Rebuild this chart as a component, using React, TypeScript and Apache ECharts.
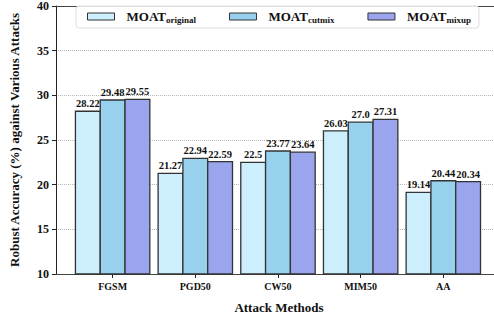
import React, { useEffect, useRef } from "react";
import * as echarts from "echarts";

const categories = ["FGSM", "PGD50", "CW50", "MIM50", "AA"];
const seriesNames = ["original", "cutmix", "mixup"];
const originalValues = [28.22, 21.27, 22.5, 26.03, 19.14];
const cutmixValues = [29.48, 22.94, 23.77, 27.0, 20.44];
const mixupValues = [29.55, 22.59, 23.64, 27.31, 20.34];
const yTicks = [10, 15, 20, 25, 30, 35, 40];

const FONT = '"Liberation Serif", "Times New Roman", serif';
const COLORS = ["#cdeefd", "#97d1ee", "#9aa5ee"];
const OFFSETS = [-0.3, 0, 0.3];
const BAR_W = 0.3;
const Y_MIN = yTicks[0];
const Y_MAX = yTicks[yTicks.length - 1];

const fmt = (v: number) => (Number.isInteger(v) ? v.toFixed(1) : String(v));

export default function App() {
  const ref = useRef<HTMLDivElement>(null);
  useEffect(() => {
    if (!ref.current) return;
    const chart = echarts.init(ref.current, null, { renderer: "svg" });
    const all = [originalValues, cutmixValues, mixupValues];
    const series = all.map((vals, s) => ({
      type: "custom",
      name: seriesNames[s],
      itemStyle: { color: COLORS[s], borderColor: "#333", borderWidth: 1 },
      data: vals.map((v, i) => [i, v]),
      encode: { x: 0, y: 1 },
      clip: false,
      renderItem: (params: any, api: any) => {
        const i = api.value(0);
        const v = api.value(1);
        const tl = api.coord([i + OFFSETS[s] - BAR_W / 2, v]);
        const br = api.coord([i + OFFSETS[s] + BAR_W / 2, Y_MIN]);
        return {
          type: "group",
          children: [
            {
              type: "rect",
              shape: { x: tl[0], y: tl[1], width: br[0] - tl[0], height: br[1] - tl[1] },
              style: { fill: COLORS[s], stroke: "#333", lineWidth: 1.3 },
            },
            {
              type: "text",
              x: (tl[0] + br[0]) / 2,
              y: tl[1] - 2,
              style: {
                text: fmt(v),
                fontSize: 10.5,
                fontWeight: "bold",
                fontFamily: FONT,
                fill: "#111",
                align: "center",
                verticalAlign: "bottom",
              },
            },
          ],
        };
      },
    }));

    chart.setOption({
      animation: false,
      grid: { left: 53, right: 0, top: 4, bottom: 41 },
      legend: {
        left: 76,
        top: 6,
        padding: [4, 8, 4, 11],
        itemWidth: 27,
        itemHeight: 7,
        itemGap: 33,
        icon: "rect",
        borderColor: "#dddddd",
        borderWidth: 1,
        borderRadius: 3,
        backgroundColor: "rgba(255,255,255,0.85)",
        itemStyle: { borderColor: "#333", borderWidth: 1 },
        data: seriesNames,
        formatter: (name: string) => `{a|MOAT}{b|${name}}`,
        textStyle: {
          padding: [0, 0, 0, 7],
          rich: {
            a: { fontSize: 13, fontWeight: "bold", fontFamily: FONT, color: "#111" },
            b: { fontSize: 9, fontWeight: "bold", fontFamily: FONT, color: "#111", padding: [6, 0, 0, 0] },
          },
        },
      },
      xAxis: [
        {
          type: "value",
          min: -0.685,
          max: 4.613,
          splitLine: { show: false },
          axisLine: { show: true, onZero: false, lineStyle: { color: "#444", width: 1 } },
          axisTick: { show: true, customValues: [0, 1, 2, 3, 4], length: 4, lineStyle: { color: "#222" } },
          axisLabel: {
            customValues: [0, 1, 2, 3, 4],
            formatter: (v: number) => categories[Math.round(v)] ?? "",
            fontSize: 10,
            fontWeight: "bold",
            fontFamily: FONT,
            color: "#111",
            margin: 7,
          },
          name: "Attack Methods",
          nameLocation: "middle",
          nameGap: 27,
          nameTextStyle: { fontSize: 13, fontWeight: "bold", fontFamily: FONT, color: "#111", padding: [0, 0, 0, 8] },
        },
        {
          type: "value",
          position: "top",
          min: -0.685,
          max: 4.613,
          splitLine: { show: false },
          axisLine: { show: true, onZero: false, lineStyle: { color: "#444", width: 1.2 } },
          axisTick: { show: false },
          axisLabel: { show: false },
        },
      ],
      yAxis: {
        type: "value",
        min: Y_MIN,
        max: Y_MAX,
        interval: 5,
        axisLine: { show: true, onZero: false, lineStyle: { color: "#222", width: 1 } },
        axisTick: { show: true, length: 4, lineStyle: { color: "#222" } },
        splitLine: { show: true, lineStyle: { type: "dotted", color: "#b5b5b5", width: 1 } },
        axisLabel: { fontSize: 12, fontWeight: "bold", fontFamily: FONT, color: "#111", margin: 7 },
        name: "Robust Accuracy (%) against Various Attacks",
        nameLocation: "middle",
        nameGap: 35,
        nameTextStyle: { fontSize: 13, fontWeight: "bold", fontFamily: FONT, color: "#111" },
      },
      series,
    });
    return () => chart.dispose();
  }, []);
  return <div ref={ref} style={{ width: 494, height: 319, position: "absolute", left: 0, top: 0 }} />;
}
